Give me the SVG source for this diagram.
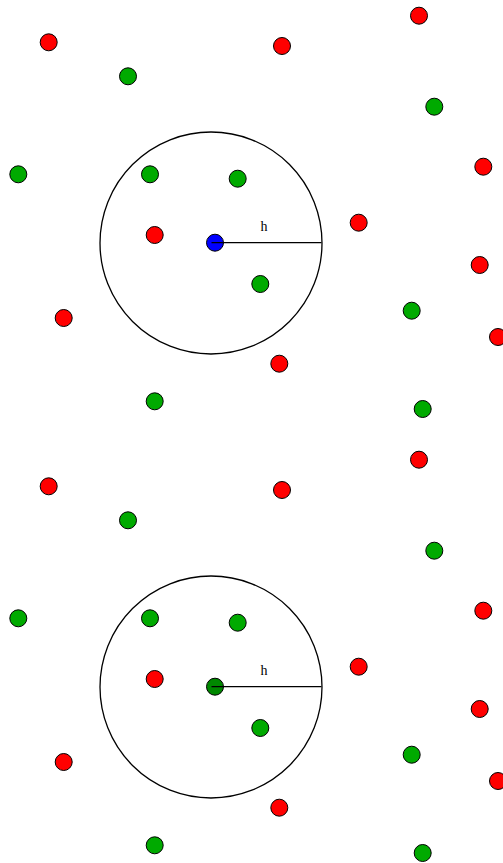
<svg xmlns="http://www.w3.org/2000/svg" xmlns:xlink="http://www.w3.org/1999/xlink" width="503" height="863" viewBox="0 0 503 863">
<style>
.r{fill:#ff0000;stroke:#000;stroke-width:1}
.g{fill:#00aa00;stroke:#000;stroke-width:1}
.b{fill:#0000ff;stroke:#000;stroke-width:1}
.dg{fill:#008800;stroke:#000;stroke-width:1}
.ring{fill:none;stroke:#000;stroke-width:1.3}
.rad{stroke:#000;stroke-width:1.3}
.lbl{font-family:"Liberation Serif","DejaVu Serif",serif;font-size:14px;fill:#000}
</style>
<rect width="503" height="863" fill="#fff"/>
<defs>
<g id="field">
<circle class="r" cx="48.7" cy="42.3" r="8.5"/>
<circle class="r" cx="282" cy="46" r="8.5"/>
<circle class="r" cx="419" cy="15.7" r="8.5"/>
<circle class="g" cx="128" cy="76.3" r="8.5"/>
<circle class="g" cx="434.3" cy="106.7" r="8.5"/>
<circle class="g" cx="18.3" cy="174.3" r="8.5"/>
<circle class="g" cx="150" cy="174.3" r="8.5"/>
<circle class="g" cx="237.7" cy="178.7" r="8.5"/>
<circle class="r" cx="483.3" cy="166.7" r="8.5"/>
<circle class="r" cx="358.7" cy="222.7" r="8.5"/>
<circle class="r" cx="154.7" cy="235" r="8.5"/>
<circle class="g" cx="260.3" cy="284" r="8.5"/>
<circle class="r" cx="479.7" cy="265" r="8.5"/>
<circle class="g" cx="411.7" cy="310.7" r="8.5"/>
<circle class="r" cx="63.7" cy="318" r="8.5"/>
<circle class="r" cx="498" cy="337" r="8.5"/>
<circle class="r" cx="279.3" cy="363.7" r="8.5"/>
<circle class="g" cx="154.7" cy="401.3" r="8.5"/>
<circle class="g" cx="422.7" cy="409" r="8.5"/>
<circle class="ring" cx="211" cy="243" r="111"/>
</g>
</defs>
<g id="panel-top">
<use xlink:href="#field"/>
<g id="center-top"><circle class="b" cx="215" cy="242.7" r="8.5"/></g>
<g id="radius-top"><line class="rad" x1="211.5" y1="242.7" x2="321.5" y2="242.7"/><text class="lbl" x="264" y="231" text-anchor="middle">h</text></g>
</g>
<g id="panel-bottom" transform="translate(0,444)">
<use xlink:href="#field"/>
<g id="center-bottom"><circle class="dg" cx="215" cy="242.7" r="8.5"/></g>
<g id="radius-bottom"><line class="rad" x1="211.5" y1="242.7" x2="321.5" y2="242.7"/><text class="lbl" x="264" y="231" text-anchor="middle">h</text></g>
</g>
</svg>
